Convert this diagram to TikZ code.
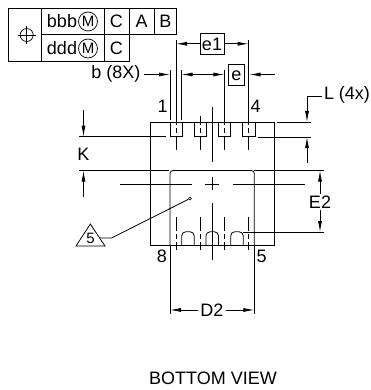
\documentclass[tikz,border=0pt]{standalone}
\usepackage{fontspec}
\setmainfont{Liberation Sans}
\usetikzlibrary{arrows.meta}
\tikzset{
  every node/.style={font=\fontsize{18}{20}\selectfont,inner sep=0pt},
  outline/.style={line width=0.8pt},
  centerline/.style={line width=0.8pt,dash pattern=on 14pt off 3pt on 5pt off 3pt on 14pt},
  dimarrow/.style={line width=0.8pt,-{Latex[length=11pt,width=4pt]}},
  labelbox/.style={draw,line width=0.8pt,minimum height=21pt,text height=13pt,text depth=0pt},
  circm/.style={draw,circle,line width=0.7pt,minimum size=19pt,font=\fontsize{15}{16}\selectfont}
}
\begin{document}
\begin{tikzpicture}[x=1pt,y=-1pt]
\useasboundingbox (0,0) rectangle (370,390);
% control frame
\draw[outline] (8.5,8.7) rectangle (41,61);
\draw[outline] (41,8.7) -- (176.7,8.7) -- (176.7,34.5);
\draw[line width=1.2pt] (41,34.5) -- (176.7,34.5);
\draw[outline] (41,61) -- (129,61) -- (129,8.7);
\draw[outline] (104.3,8.7) -- (104.3,61);
\draw[outline] (154,8.7) -- (154,34.5);
\draw (26.7,35) node[minimum size=13pt,draw,circle,line width=0.7pt](pos) {};
\draw[line width=0.7pt] (17.7,35) -- (35.7,35) (26.7,26) -- (26.7,44);
\draw (62,21.5) node(bbb) {bbb};
\draw (88,21.5) node[circm](mone) {M};
\draw (116.3,21.5) node(cone) {C};
\draw (141.7,21.5) node(refa) {A};
\draw (165.3,21.5) node(refb) {B};
\draw (62,48.5) node(ddd) {ddd};
\draw (88,48.5) node[circm](mtwo) {M};
\draw (116.3,48.5) node(ctwo) {C};
% package body
\draw[outline] (150.5,122) rectangle (274,245);
\foreach \x in {170,194,218,242.5}
  \draw[outline] (\x,122) rectangle (\x+12.4,136.7);
\foreach \x in {176,200,224.3,248.6} {
  \draw[centerline] (\x,150) -- (\x,116);
  \draw[centerline] (\x,217) -- (\x,250);
}
% exposed pad
\draw[outline,rounded corners=3pt] (170,245) -- (170,170.5) -- (254.3,170.5) -- (254.3,245);
\draw[outline] (170,245) -- (181.7,245);
\foreach \x in {181.7,206,230.7}
  \draw[outline,rounded corners=4pt] (\x,245) -- (\x,231.8) -- (\x+12.5,231.8) -- (\x+12.5,245);
% center marks
\draw[outline] (119.5,184) -- (192,184) (205,184) -- (219,184) (233,184) -- (305,184);
\draw[outline] (212,107) -- (212,162) (212,177) -- (212,190) (212,203) -- (212,260);
% e1 dimension
\draw (212,43.8) node[labelbox,minimum width=24pt](eone) {e1};
\coordinate (eonel) at (176,43.8);
\coordinate (eoner) at (248.6,43.8);
\draw[outline] (176,40) -- (176,116) (248.6,40) -- (248.6,116);
\draw[dimarrow] (eone) -- (eonel);
\draw[dimarrow] (eone) -- (eoner);
% e and b dimension
\draw (236.5,74.5) node[labelbox,minimum width=16.5pt](epitch) {e};
\draw (116,74) node(bdim) {b (8X)};
\coordinate (bl) at (170,74.5);
\coordinate (br) at (181.6,74.5);
\coordinate (er) at (224.3,74.5);
\coordinate (bout) at (275,74.5);
\coordinate (bend) at (249.5,74.5);
\draw[outline] (170,70) -- (170,120) (181.6,70) -- (181.6,120) (224.3,70) -- (224.3,116);
\draw[dimarrow] (bdim.east) ++(3,0.5) -- (bl);
\draw[line width=0.8pt,{Latex[length=11pt,width=4pt]}-{Latex[length=11pt,width=4pt]}] (br) -- (er);
\draw[dimarrow] (bout) -- (bend);
% L dimension
\draw[outline] (277,122) -- (311,122) (258,137) -- (311,137);
\draw (347,95) node(ldim) {L (4x)};
\coordinate (lbend) at (307,96);
\coordinate (ltop) at (307,122);
\coordinate (lbot) at (307,137);
\coordinate (llow) at (307,163);
\draw[dimarrow] (ldim.west) ++(-2,1) -- (lbend) -- (ltop);
\draw[dimarrow] (llow) -- (lbot);
% K dimension
\draw[outline] (79,136.7) -- (166,136.7) (79,170.6) -- (169,170.6);
\draw (83.5,154) node(kdim) {K};
\coordinate (ktop) at (83.5,136.7);
\coordinate (kbot) at (83.5,170.6);
\coordinate (kup) at (83.5,110);
\coordinate (klow) at (83.5,197);
\draw[dimarrow] (kup) -- (ktop);
\draw[dimarrow] (klow) -- (kbot);
% E2 dimension
\draw[outline] (254,170.5) -- (324,170.5) (243,232) -- (324,232);
\draw (320,202) node[inner ysep=2pt](etwo) {E2};
\coordinate (etop) at (320,170.5);
\coordinate (ebot) at (320,232);
\draw[dimarrow] (etwo) -- (etop);
\draw[dimarrow] (etwo) -- (ebot);
% D2 dimension
\draw[outline] (170,245) -- (170,313.5) (254.3,245) -- (254.3,313.5);
\draw (212,310) node(dtwo) {D2};
\coordinate (dl) at (170,310);
\coordinate (dr) at (254.3,310);
\draw[dimarrow] (dtwo.west) ++(-2,0) -- (dl);
\draw[dimarrow] (dtwo.east) ++(2,0) -- (dr);
% pin numbers
\draw (162.7,106.5) node(pinone) {1};
\draw (255.7,106.5) node(pinfour) {4};
\draw (162,256) node(pineight) {8};
\draw (261.7,256) node(pinfive) {5};
% note 5
\draw (90.5,238) node[font=\fontsize{15}{16}\selectfont](notefive) {5};
\draw[outline] (90.3,224) -- (105,246) -- (76,246) -- cycle;
\draw (190,198.5) node[minimum size=3pt,draw,circle,line width=0.6pt,fill=white](dot) {};
\coordinate (notebend) at (111.5,238);
\coordinate (notestart) at (100,238);
\draw[outline] (notestart) -- (notebend) -- (dot);
\draw (213,378) node(title) {BOTTOM VIEW};
\end{tikzpicture}
\end{document}
